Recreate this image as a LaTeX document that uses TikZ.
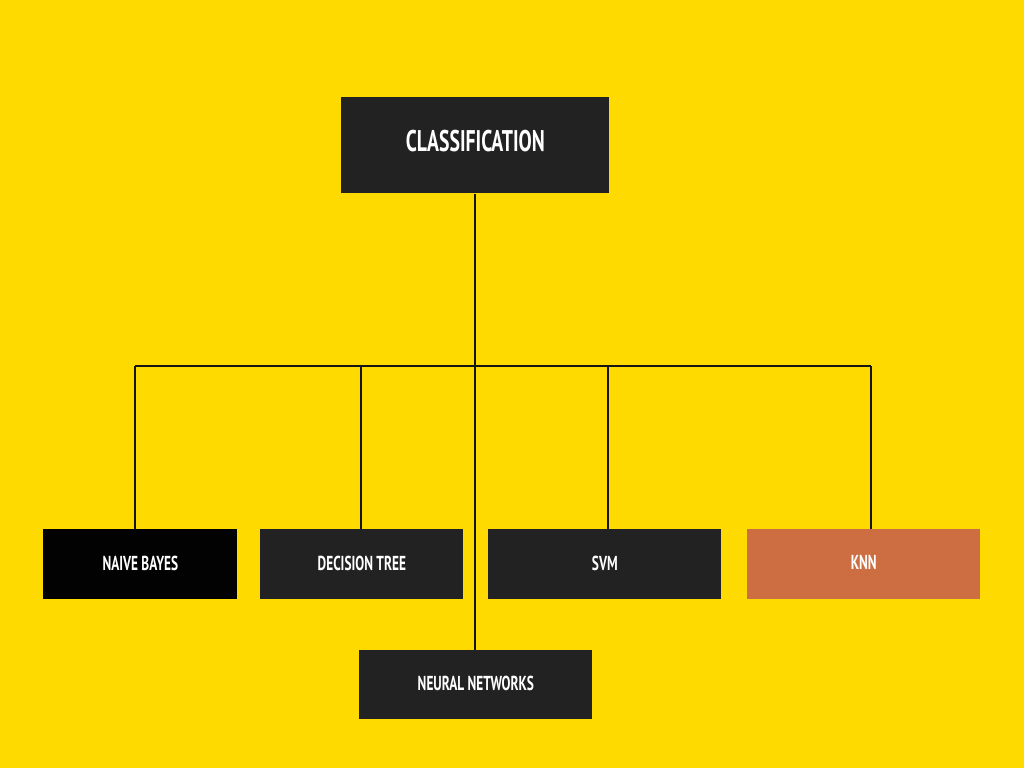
\documentclass[tikz,border=0pt]{standalone}
\usepackage{fontspec}
\setmainfont[FakeStretch=0.66]{PT Sans}
\definecolor{bgyellow}{HTML}{FFDA00}
\definecolor{boxdark}{HTML}{222222}
\definecolor{boxblack}{HTML}{020202}
\definecolor{knncol}{HTML}{CD6E42}
\definecolor{linecol}{HTML}{151515}
\begin{document}
\begin{tikzpicture}[x=0.02cm,y=-0.02cm,
  box/.style={draw=none, inner sep=0pt, text=white, font=\bfseries\fontsize{11.5}{13}\selectfont, anchor=north west},
  conn/.style={draw=linecol, line width=1.1pt}]
\fill[bgyellow] (0,0) rectangle (1024,768);
\useasboundingbox (0,0) rectangle (1024,768);
% nodes
\node[box, fill=boxdark, minimum width=268*0.02cm, minimum height=96*0.02cm, font=\bfseries\fontsize{17}{19}\selectfont] (cls) at (341,97) {\raisebox{0.3em}{CLASSIFICATION}};
\node[box, fill=boxblack, minimum width=194*0.02cm, minimum height=70*0.02cm] (nb) at (43,529) {\raisebox{0.15em}{NAIVE BAYES}};
\node[box, fill=boxdark, minimum width=203*0.02cm, minimum height=70*0.02cm] (dt) at (260,529) {\raisebox{0.15em}{DECISION TREE}};
\node[box, fill=boxdark, minimum width=233*0.02cm, minimum height=70*0.02cm] (svm) at (488,529) {\raisebox{0.15em}{SVM}};
\node[box, fill=knncol, minimum width=233*0.02cm, minimum height=70*0.02cm] (knn) at (747,529) {\raisebox{0.15em}{KNN}};
\node[box, fill=boxdark, minimum width=233*0.02cm, minimum height=69*0.02cm] (nn) at (359,650) {\raisebox{0.15em}{NEURAL NETWORKS}};
% bar coordinates
\coordinate (b1) at (135,366);
\coordinate (b2) at (361,366);
\coordinate (b4) at (608,366);
\coordinate (b5) at (871,366);
% connectors
\draw[conn] (cls.south -| 475,0) -- (nn.north -| 475,0);
\draw[conn] (b1) -- (b5);
\draw[conn] (b1) -- (b1 |- nb.north);
\draw[conn] (b2) -- (b2 |- dt.north);
\draw[conn] (b4) -- (b4 |- svm.north);
\draw[conn] (b5) -- (b5 |- knn.north);
\end{tikzpicture}
\end{document}
